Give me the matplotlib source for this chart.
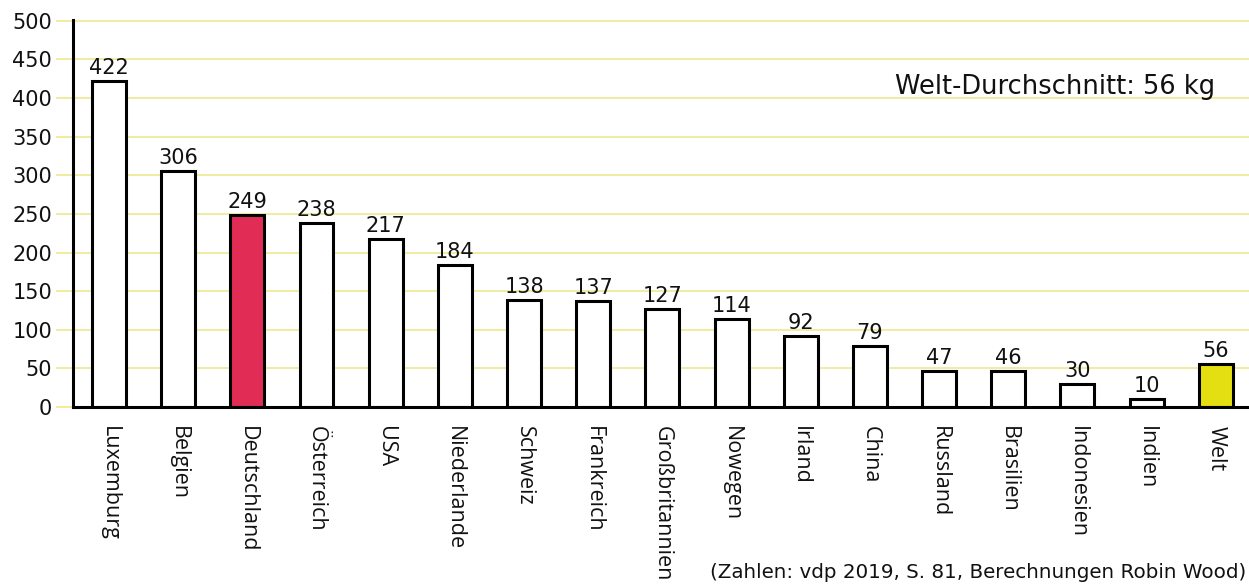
import matplotlib
matplotlib.use("Agg")
import matplotlib.pyplot as plt

countries = ["Luxemburg", "Belgien", "Deutschland", "Österreich", "USA",
             "Niederlande", "Schweiz", "Frankreich", "Großbritannien", "Nowegen",
             "Irland", "China", "Russland", "Brasilien", "Indonesien", "Indien", "Welt"]
values = [422, 306, 249, 238, 217, 184, 138, 137, 127, 114, 92, 79, 47, 46, 30, 10, 56]
yticks = [0, 50, 100, 150, 200, 250, 300, 350, 400, 450, 500]

colors = ["white"] * len(values)
colors[countries.index("Deutschland")] = "#e12d55"
colors[countries.index("Welt")] = "#e4df10"

plt.rcParams["font.family"] = ["DejaVu Sans"]

fig = plt.figure(figsize=(12.49, 5.84), dpi=100)
ax = fig.add_axes([73 / 1249, 1 - 407 / 584, 1 - 73 / 1249, 387 / 584])

x = list(range(len(values)))
ax.bar(x, values, width=0.49, color=colors, edgecolor="black", linewidth=2.2, zorder=3)

for xi, v in zip(x, values):
    ax.text(xi, v + 4, str(v), ha="center", va="bottom", fontsize=15, color="#111111", zorder=4)

ax.set_xlim(-0.52, len(values) - 0.52)
ax.set_ylim(0, 501)
ax.set_yticks(yticks)
ax.set_yticklabels([str(t) for t in yticks], fontsize=15, color="#111111")
ax.tick_params(axis="y", length=12, width=1.2, color="#eeea90", pad=3)
ax.yaxis.grid(True, color="#eeea90", linewidth=1.2, zorder=0)

ax.set_xticks(x)
ax.set_xticklabels(countries, rotation=270, fontsize=15.5, family="Open Sans", color="#111111")
ax.tick_params(axis="x", length=0, pad=14)

for s in ["top", "right"]:
    ax.spines[s].set_visible(False)
ax.spines["left"].set_linewidth(2.2)
ax.spines["bottom"].set_linewidth(2.2)
ax.spines["left"].set_zorder(5)
ax.spines["bottom"].set_zorder(5)

fig.text(1215 / 1249, 1 - 87 / 584, "Welt-Durchschnitt: 56 kg",
         ha="right", va="center", fontsize=18.5, color="#111111")
fig.text(1246 / 1249, 1 - 573 / 584, "(Zahlen: vdp 2019, S. 81, Berechnungen Robin Wood)",
         ha="right", va="center", fontsize=14.3, color="#111111")

fig.savefig("out.png", dpi=100)
